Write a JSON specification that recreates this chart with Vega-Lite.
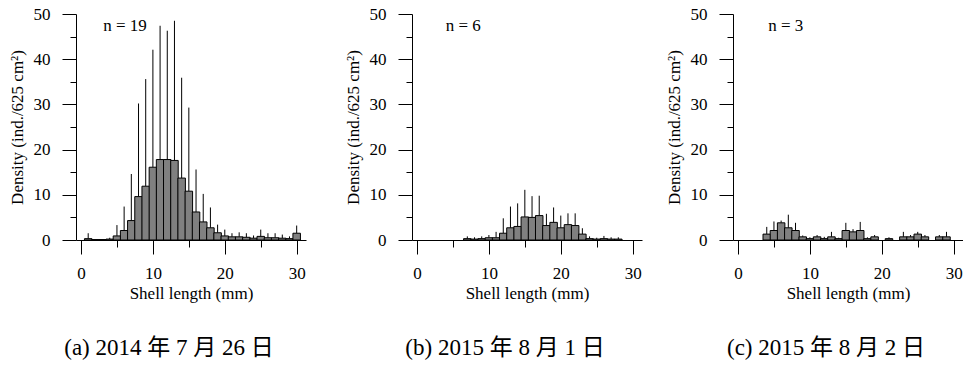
{
  "$schema": "https://vega.github.io/schema/vega-lite/v6.json",
  "background": "white",
  "padding": {"left": 8, "top": 5, "right": 0, "bottom": 0},
  "config": {
    "view": {"stroke": null},
    "font": "Liberation Serif",
    "axis": {
      "domainColor": "black", "tickColor": "black", "labelColor": "black", "titleColor": "black",
      "labelFont": "Liberation Serif", "titleFont": "Liberation Serif",
      "labelFontSize": 17, "titleFontSize": 17, "titleFontWeight": "normal",
      "grid": false, "domainWidth": 1, "tickWidth": 1
    },
    "title": {"font": "Liberation Serif, Noto Sans CJK SC", "fontSize": 23, "fontWeight": "normal", "color": "black"}
  },
  "datasets": {
    "bars": [
      {"panel": "a", "length": 1, "density": 0.3, "upper": 1.5},
      {"panel": "a", "length": 2, "density": 0.1, "upper": 0.1},
      {"panel": "a", "length": 3, "density": 0.1, "upper": 0.1},
      {"panel": "a", "length": 4, "density": 0.2, "upper": 0.5},
      {"panel": "a", "length": 5, "density": 0.9, "upper": 3.3},
      {"panel": "a", "length": 6, "density": 2.1, "upper": 7.4},
      {"panel": "a", "length": 7, "density": 4.3, "upper": 14.6},
      {"panel": "a", "length": 8, "density": 9.6, "upper": 30.2},
      {"panel": "a", "length": 9, "density": 11.9, "upper": 35.6},
      {"panel": "a", "length": 10, "density": 16.1, "upper": 42.1},
      {"panel": "a", "length": 11, "density": 17.8, "upper": 47.4},
      {"panel": "a", "length": 12, "density": 17.8, "upper": 46.3},
      {"panel": "a", "length": 13, "density": 17.6, "upper": 48.5},
      {"panel": "a", "length": 14, "density": 13.7, "upper": 35.9},
      {"panel": "a", "length": 15, "density": 10.8, "upper": 29.3},
      {"panel": "a", "length": 16, "density": 6.2, "upper": 15.6},
      {"panel": "a", "length": 17, "density": 4.0, "upper": 10.2},
      {"panel": "a", "length": 18, "density": 2.7, "upper": 7.2},
      {"panel": "a", "length": 19, "density": 1.6, "upper": 3.4},
      {"panel": "a", "length": 20, "density": 0.9, "upper": 2.3},
      {"panel": "a", "length": 21, "density": 0.7, "upper": 1.5},
      {"panel": "a", "length": 22, "density": 0.7, "upper": 1.7},
      {"panel": "a", "length": 23, "density": 0.6, "upper": 1.5},
      {"panel": "a", "length": 24, "density": 0.4, "upper": 1.0},
      {"panel": "a", "length": 25, "density": 0.8, "upper": 2.3},
      {"panel": "a", "length": 26, "density": 0.5, "upper": 1.5},
      {"panel": "a", "length": 27, "density": 0.5, "upper": 1.5},
      {"panel": "a", "length": 28, "density": 0.4, "upper": 1.2},
      {"panel": "a", "length": 29, "density": 0.3, "upper": 0.8},
      {"panel": "a", "length": 30, "density": 1.5, "upper": 3.2},
      {"panel": "b", "length": 7, "density": 0.3, "upper": 0.8},
      {"panel": "b", "length": 8, "density": 0.2, "upper": 0.6},
      {"panel": "b", "length": 9, "density": 0.3, "upper": 0.8},
      {"panel": "b", "length": 10, "density": 0.5, "upper": 1.1},
      {"panel": "b", "length": 11, "density": 0.5, "upper": 1.8},
      {"panel": "b", "length": 12, "density": 1.5, "upper": 4.8},
      {"panel": "b", "length": 13, "density": 2.7, "upper": 7.4},
      {"panel": "b", "length": 14, "density": 3.0, "upper": 8.1},
      {"panel": "b", "length": 15, "density": 5.1, "upper": 11.1},
      {"panel": "b", "length": 16, "density": 5.0, "upper": 9.7},
      {"panel": "b", "length": 17, "density": 5.4, "upper": 9.8},
      {"panel": "b", "length": 18, "density": 3.2, "upper": 5.8},
      {"panel": "b", "length": 19, "density": 3.9, "upper": 7.2},
      {"panel": "b", "length": 20, "density": 2.7, "upper": 5.4},
      {"panel": "b", "length": 21, "density": 3.4, "upper": 5.9},
      {"panel": "b", "length": 22, "density": 3.2, "upper": 5.9},
      {"panel": "b", "length": 23, "density": 1.3, "upper": 2.6},
      {"panel": "b", "length": 24, "density": 0.3, "upper": 0.8},
      {"panel": "b", "length": 25, "density": 0.2, "upper": 0.5},
      {"panel": "b", "length": 26, "density": 0.3, "upper": 0.9},
      {"panel": "b", "length": 27, "density": 0.2, "upper": 0.6},
      {"panel": "b", "length": 28, "density": 0.2, "upper": 0.6},
      {"panel": "c", "length": 4, "density": 1.3, "upper": 2.9},
      {"panel": "c", "length": 5, "density": 2.1, "upper": 4.1},
      {"panel": "c", "length": 6, "density": 3.8, "upper": 4.3},
      {"panel": "c", "length": 7, "density": 2.7, "upper": 5.6},
      {"panel": "c", "length": 8, "density": 2.1, "upper": 3.8},
      {"panel": "c", "length": 9, "density": 0.7, "upper": 1.0},
      {"panel": "c", "length": 10, "density": 0.3, "upper": 0.6},
      {"panel": "c", "length": 11, "density": 0.7, "upper": 1.1},
      {"panel": "c", "length": 12, "density": 0.3, "upper": 0.7},
      {"panel": "c", "length": 13, "density": 0.7, "upper": 1.8},
      {"panel": "c", "length": 14, "density": 0.3, "upper": 0.5},
      {"panel": "c", "length": 15, "density": 2.1, "upper": 3.8},
      {"panel": "c", "length": 16, "density": 1.8, "upper": 2.4},
      {"panel": "c", "length": 17, "density": 2.1, "upper": 4.0},
      {"panel": "c", "length": 18, "density": 0.3, "upper": 0.6},
      {"panel": "c", "length": 19, "density": 0.7, "upper": 1.1},
      {"panel": "c", "length": 21, "density": 0.3, "upper": 0.6},
      {"panel": "c", "length": 23, "density": 0.7, "upper": 1.8},
      {"panel": "c", "length": 24, "density": 0.7, "upper": 1.1},
      {"panel": "c", "length": 25, "density": 1.3, "upper": 1.8},
      {"panel": "c", "length": 26, "density": 0.7, "upper": 1.1},
      {"panel": "c", "length": 28, "density": 0.7, "upper": 1.1},
      {"panel": "c", "length": 29, "density": 0.7, "upper": 1.8}
    ],
    "labels": [
      {"panel": "a", "label": "n = 19"},
      {"panel": "b", "label": "n = 6"},
      {"panel": "c", "label": "n = 3"}
    ]
  },
  "spacing": 38,
  "hconcat": [
    {
      "width": 230, "height": 226,
      "title": {"text": "(a) 2014 年 7 月 26 日", "orient": "bottom", "offset": 36, "anchor": "middle", "dx": -22},
      "resolve": {"axis": {"x": "independent", "y": "independent"}},
      "layer": [
        {
          "data": {"name": "bars"},
          "transform": [{"filter": "datum.panel === 'a'"}],
          "mark": {"type": "rule", "color": "black", "strokeWidth": 1},
          "encoding": {
            "x": {"field": "length", "type": "quantitative", "scale": {"domain": [0, 30.6], "nice": false},
              "axis": {"orient": "bottom", "title": "Shell length (mm)", "values": [0, 10, 20, 30], "tickSize": 14, "labelPadding": 11, "titlePadding": 4}},
            "y": {"field": "density", "type": "quantitative", "scale": {"domain": [0, 50], "nice": false},
              "axis": {"orient": "left", "title": "Density (ind./625 cm²)", "values": [0, 10, 20, 30, 40, 50], "tickSize": 14, "labelPadding": 12, "titlePadding": 7}},
            "y2": {"field": "upper"}
          }
        },
        {
          "data": {"name": "bars"},
          "transform": [{"filter": "datum.panel === 'a'"}],
          "mark": {"type": "bar", "fill": "#808080", "stroke": "black", "strokeWidth": 1, "size": 7.5},
          "encoding": {
            "x": {"field": "length", "type": "quantitative",
              "axis": {"orient": "bottom", "title": null, "values": [5, 15, 25], "tickSize": 7, "labels": false, "domain": false}},
            "y": {"field": "density", "type": "quantitative",
              "axis": {"orient": "left", "title": null, "values": [5, 15, 25, 35, 45], "tickSize": 6, "labels": false, "domain": false}}
          }
        },
        {
          "data": {"name": "labels"},
          "transform": [{"filter": "datum.panel === 'a'"}],
          "mark": {"type": "text", "align": "left", "baseline": "middle", "fontSize": 17, "font": "Liberation Serif", "color": "black"},
          "encoding": {"x": {"datum": 3.1, "axis": null}, "y": {"datum": 47.3, "axis": null}, "text": {"field": "label"}}
        }
      ]
    },
    {
      "spacing": 23,
      "hconcat": [
        {
          "width": 230, "height": 226,
          "title": {"text": "(b) 2015 年 8 月 1 日", "orient": "bottom", "offset": 36, "anchor": "middle", "dx": -22},
          "resolve": {"axis": {"x": "independent", "y": "independent"}},
          "layer": [
            {
              "data": {"name": "bars"},
              "transform": [{"filter": "datum.panel === 'b'"}],
              "mark": {"type": "rule", "color": "black", "strokeWidth": 1},
              "encoding": {
                "x": {"field": "length", "type": "quantitative", "scale": {"domain": [0, 30.6], "nice": false},
                  "axis": {"orient": "bottom", "title": "Shell length (mm)", "values": [0, 10, 20, 30], "tickSize": 14, "labelPadding": 11, "titlePadding": 4}},
                "y": {"field": "density", "type": "quantitative", "scale": {"domain": [0, 50], "nice": false},
                  "axis": {"orient": "left", "title": "Density (ind./625 cm²)", "values": [0, 10, 20, 30, 40, 50], "tickSize": 14, "labelPadding": 12, "titlePadding": 7}},
                "y2": {"field": "upper"}
              }
            },
            {
              "data": {"name": "bars"},
              "transform": [{"filter": "datum.panel === 'b'"}],
              "mark": {"type": "bar", "fill": "#808080", "stroke": "black", "strokeWidth": 1, "size": 7.5},
              "encoding": {
                "x": {"field": "length", "type": "quantitative",
                  "axis": {"orient": "bottom", "title": null, "values": [5, 15, 25], "tickSize": 7, "labels": false, "domain": false}},
                "y": {"field": "density", "type": "quantitative",
                  "axis": {"orient": "left", "title": null, "values": [5, 15, 25, 35, 45], "tickSize": 6, "labels": false, "domain": false}}
              }
            },
            {
              "data": {"name": "labels"},
              "transform": [{"filter": "datum.panel === 'b'"}],
              "mark": {"type": "text", "align": "left", "baseline": "middle", "fontSize": 17, "font": "Liberation Serif", "color": "black"},
              "encoding": {"x": {"datum": 4.0, "axis": null}, "y": {"datum": 47.3, "axis": null}, "text": {"field": "label"}}
            }
          ]
        },
        {
          "width": 230, "height": 226,
          "title": {"text": "(c) 2015 年 8 月 2 日", "orient": "bottom", "offset": 36, "anchor": "middle", "dx": -22},
          "resolve": {"axis": {"x": "independent", "y": "independent"}},
          "layer": [
            {
              "data": {"name": "bars"},
              "transform": [{"filter": "datum.panel === 'c'"}],
              "mark": {"type": "rule", "color": "black", "strokeWidth": 1},
              "encoding": {
                "x": {"field": "length", "type": "quantitative", "scale": {"domain": [0, 30.6], "nice": false},
                  "axis": {"orient": "bottom", "title": "Shell length (mm)", "values": [0, 10, 20, 30], "tickSize": 14, "labelPadding": 11, "titlePadding": 4}},
                "y": {"field": "density", "type": "quantitative", "scale": {"domain": [0, 50], "nice": false},
                  "axis": {"orient": "left", "title": "Density (ind./625 cm²)", "values": [0, 10, 20, 30, 40, 50], "tickSize": 14, "labelPadding": 12, "titlePadding": 7}},
                "y2": {"field": "upper"}
              }
            },
            {
              "data": {"name": "bars"},
              "transform": [{"filter": "datum.panel === 'c'"}],
              "mark": {"type": "bar", "fill": "#808080", "stroke": "black", "strokeWidth": 1, "size": 7.5},
              "encoding": {
                "x": {"field": "length", "type": "quantitative",
                  "axis": {"orient": "bottom", "title": null, "values": [5, 15, 25], "tickSize": 7, "labels": false, "domain": false}},
                "y": {"field": "density", "type": "quantitative",
                  "axis": {"orient": "left", "title": null, "values": [5, 15, 25, 35, 45], "tickSize": 6, "labels": false, "domain": false}}
              }
            },
            {
              "data": {"name": "labels"},
              "transform": [{"filter": "datum.panel === 'c'"}],
              "mark": {"type": "text", "align": "left", "baseline": "middle", "fontSize": 17, "font": "Liberation Serif", "color": "black"},
              "encoding": {"x": {"datum": 4.2, "axis": null}, "y": {"datum": 47.3, "axis": null}, "text": {"field": "label"}}
            }
          ]
        }
      ]
    }
  ]
}
